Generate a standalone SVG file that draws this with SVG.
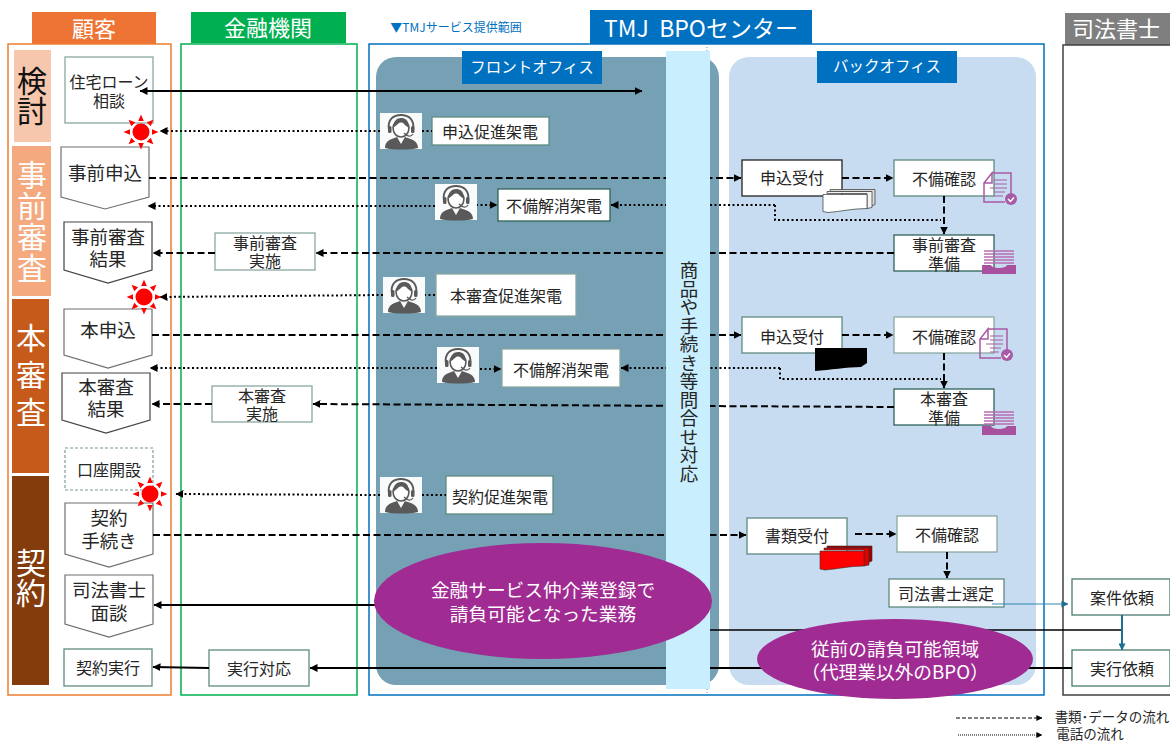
<svg xmlns="http://www.w3.org/2000/svg" width="1170" height="742" viewBox="0 0 1170 742">
<style>
text{font-family:"Noto Sans CJK JP","Noto Sans",sans-serif;fill:#262626;text-anchor:middle}
.box{fill:#fff;stroke:#5f8a80;stroke-width:1.3}
.pent{fill:#fff;stroke:#6f6f6f;stroke-width:1.2}
.hd{fill:#fff;font-size:22px}
.sub{fill:#fff;font-size:15.500px}
.st{font-size:30px;writing-mode:vertical-rl}
.t{font-size:16px}
.t2{font-size:18.500px}
.c{fill:none;stroke:#000}
.dash{stroke-width:2;stroke-dasharray:7 3.500}
.dot{stroke-width:2;stroke-dasharray:2 2.500}
.solid{stroke-width:2}
.leg{fill:#262626;font-size:13.500px}
.el{fill:#fff;font-size:18.700px}
</style>
<defs>
<marker id="a" viewBox="0 0 8 8" refX="7.500" refY="4" markerWidth="8" markerHeight="8" markerUnits="userSpaceOnUse" orient="auto-start-reverse"><path d="M0 0L8 4L0 8Z" fill="#000"/></marker>
<marker id="b" viewBox="0 0 8 8" refX="7.500" refY="4" markerWidth="6" markerHeight="6" markerUnits="userSpaceOnUse" orient="auto"><path d="M0 0L8 4L0 8Z" fill="#000"/></marker>
<marker id="tl" viewBox="0 0 8 8" refX="7.500" refY="4" markerWidth="7" markerHeight="7" markerUnits="userSpaceOnUse" orient="auto"><path d="M0 0L8 4L0 8Z" fill="#1f6f94"/></marker>
<symbol id="op" viewBox="0 0 42 36" overflow="visible">
<rect width="42" height="36" fill="#fff" opacity=".95"/>
<path d="M5 35C5 27 12 26 17 24L21 31L25 24C30 26 38 27 38 35C30 37 13 37 5 35Z" fill="#595959"/>
<path d="M13 14C13 7 29 7 29 14C29 21 25 24 21 24C17 24 13 21 13 14Z" fill="#fff" stroke="#595959" stroke-width="1.500"/>
<path d="M13 15C16 13 19 10 21 8C24 11 26 13 29 15C29 7 25 5 21 5C17 5 13 8 13 15Z" fill="#595959"/>
<path d="M9 17C7 6 14 2 21 2C28 2 35 6 33 17" fill="none" stroke="#595959" stroke-width="2"/>
<rect x="8" y="13" width="3.500" height="7" rx="1.500" fill="#595959"/><rect x="31" y="13" width="3.500" height="7" rx="1.500" fill="#595959"/>
<path d="M33 20C31 23 28 23 24 19" fill="none" stroke="#595959" stroke-width="1.300" transform="translate(0,1)"/>
</symbol>
<symbol id="sun" viewBox="-18 -18 36 36" overflow="visible">
<circle r="8.500" fill="#f00"/>
<g fill="#f00"><path d="M-2.800-11L0-17.500L2.800-11Z"/>
<path d="M-2.800-11L0-17.500L2.800-11Z" transform="rotate(45)"/><path d="M-2.800-11L0-17.500L2.800-11Z" transform="rotate(90)"/><path d="M-2.800-11L0-17.500L2.800-11Z" transform="rotate(135)"/><path d="M-2.800-11L0-17.500L2.800-11Z" transform="rotate(180)"/><path d="M-2.800-11L0-17.500L2.800-11Z" transform="rotate(225)"/><path d="M-2.800-11L0-17.500L2.800-11Z" transform="rotate(270)"/><path d="M-2.800-11L0-17.500L2.800-11Z" transform="rotate(315)"/></g>
</symbol>
<symbol id="chk" viewBox="0 0 34 32" overflow="visible">
<path d="M9 1H28V23M22 30H1V11L9 1V11H1" fill="none" stroke="#a95aa5" stroke-width="1.500"/>
<path d="M11 8H24M11 12H24M7 16H24M11 20H22M11 24H20" stroke="#a95aa5" stroke-width="1.200"/>
<circle cx="28" cy="27" r="6" fill="#a95aa5"/><path d="M25 27L27.500 29.500L31 25.500" fill="none" stroke="#fff" stroke-width="1.500"/>
</symbol>
<symbol id="tray" viewBox="0 0 36 24" overflow="visible">
<path d="M3 1H33M3 4H33M3 7H33M3 10H33M3 13H33" stroke="#b86db2" stroke-width="1.400"/>
<path d="M1 15H10C11 19 25 19 26 15H35V24H1Z" fill="#a8529f"/>
</symbol>
<symbol id="stack" viewBox="0 0 52 24" overflow="visible">
<path d="M7 1H52V16L47 18V3H7Z" fill="#d9d9d9" stroke="#333" stroke-width=".7"/>
<path d="M4 3H49V19L44 20V5H4Z" fill="#f2f2f2" stroke="#333" stroke-width=".7"/>
<path d="M0 6H44V20C30 20 18 23 5 24L0 23Z" fill="#fff" stroke="#333" stroke-width=".7"/>
</symbol>
</defs>

<rect x="32" y="12" width="124" height="32" fill="#ed7435"/>
<rect x="191" y="12" width="155" height="31" fill="#00b050"/>
<rect x="590" y="10" width="222" height="34" fill="#0070c0"/>
<rect x="1065" y="13" width="105" height="32" fill="#7f7f7f"/>
<text class="hd" x="94" y="37">顧客</text>
<text class="hd" x="268" y="36">金融機関</text>
<text class="hd" x="701" y="37" style="font-size:23px">TMJ&#160;&#160;BPOセンター</text>
<text class="hd" x="1116" y="37">司法書士</text>
<text x="456" y="32" style="font-size:12px;fill:#0070c0">▼TMJサービス提供範囲</text>

<rect x="8" y="44" width="163" height="651" fill="none" stroke="#ed7d31" stroke-width="1.500"/>
<rect x="181" y="44" width="176" height="651" fill="none" stroke="#00b050" stroke-width="1.500"/>
<rect x="369" y="44" width="675" height="651" fill="none" stroke="#0070c0" stroke-width="1.500"/>
<rect x="1063" y="45" width="120" height="650" fill="none" stroke="#404040" stroke-width="1.500"/>

<rect x="376" y="57" width="343" height="628" rx="20" fill="#76a1b5"/>
<rect x="729" y="57" width="307" height="628" rx="20" fill="#c7dbf1"/>
<rect x="462" y="51" width="140" height="33" fill="#0070c0"/>
<rect x="817" y="51" width="140" height="32" fill="#0070c0"/>
<text class="sub" x="532" y="73">フロントオフィス</text>
<text class="sub" x="887" y="72">バックオフィス</text>

<g id="stages">
<rect x="14" y="50" width="37" height="92" fill="#f6c6ad"/>
<rect x="12" y="146" width="39" height="150" fill="#f4a97f"/>
<rect x="12" y="299" width="37" height="174" fill="#c55a1a"/>
<rect x="12" y="476" width="37" height="209" fill="#843c0c"/>
<text class="st" x="32" y="96" style="fill:#111">検討</text>
<text class="st" x="32" y="222" style="fill:#fff;letter-spacing:1px">事前審査</text>
<text class="st" x="31" y="378" style="fill:#fff;letter-spacing:7px">本審査</text>
<text class="st" x="31" y="578" style="fill:#fff">契約</text>
</g>

<g id="n-jutaku"><rect class="box" x="65" y="57" width="88" height="66" style="stroke:#8aa8a0"/><text class="t" x="109" y="88">住宅ローン</text><text class="t" x="109" y="107">相談</text></g>
<g id="n-jizen"><path class="pent" d="M61 147H149V197L105 209L61 197Z"/><text class="t2" x="105" y="180">事前申込</text></g>
<g id="n-jizenkekka"><path class="pent" d="M64 222H152V270L108 283L64 270Z" style="stroke:#444"/><text class="t2" x="108" y="244">事前審査</text><text class="t2" x="108" y="266">結果</text></g>
<g id="n-hon"><path class="pent" d="M64 309H152V355L108 368L64 355Z"/><text class="t2" x="108" y="337">本申込</text></g>
<g id="n-honkekka"><path class="pent" d="M62 373H150V420L106 433L62 420Z" style="stroke:#444"/><text class="t2" x="106" y="394">本審査</text><text class="t2" x="106" y="416">結果</text></g>
<g id="n-koza"><rect x="65" y="448" width="88" height="42" fill="#fff" stroke="#7f9a94" stroke-width="1.200" stroke-dasharray="3 2"/><text class="t" x="109" y="476">口座開設</text></g>
<g id="n-keiyaku"><path class="pent" d="M65 503H153V554L109 567L65 554Z"/><text class="t2" x="109" y="525">契約</text><text class="t2" x="109" y="548">手続き</text></g>
<g id="n-shiho"><path class="pent" d="M65 575H153V624L109 637L65 624Z"/><text class="t2" x="109" y="597">司法書士</text><text class="t2" x="109" y="620">面談</text></g>
<g id="n-jikko"><rect class="box" x="64" y="649" width="88" height="37"/><text class="t" x="108" y="674">契約実行</text></g>

<g id="n-jizenjisshi"><rect class="box" x="215" y="233" width="100" height="37" style="stroke:#8aa8a0"/><text class="t" x="265" y="249">事前審査</text><text class="t" x="265" y="267">実施</text></g>
<g id="n-honjisshi"><rect class="box" x="212" y="386" width="100" height="36" style="stroke:#8aa8a0"/><text class="t" x="262" y="402">本審査</text><text class="t" x="262" y="420">実施</text></g>
<g id="n-jikkotaio"><rect class="box" x="209" y="650" width="100" height="36"/><text class="t" x="259" y="675">実行対応</text></g>

<g id="n-c1"><rect class="box" x="432" y="117" width="117" height="28"/><text class="t" x="490" y="138">申込促進架電</text></g>
<g id="n-c2"><rect class="box" x="498" y="189" width="112" height="32" style="stroke:#2f6358"/><text class="t" x="554" y="212">不備解消架電</text></g>
<g id="n-c3"><rect class="box" x="436" y="274" width="140" height="42" style="stroke:#8aa8a0"/><text class="t" x="506" y="302">本審査促進架電</text></g>
<g id="n-c4"><rect class="box" x="502" y="349" width="118" height="38" style="stroke:#8aa8a0"/><text class="t" x="561" y="376">不備解消架電</text></g>
<g id="n-c5"><rect class="box" x="446" y="476" width="107" height="38"/><text class="t" x="500" y="503">契約促進架電</text></g>

<g id="n-uke1"><rect class="box" x="742" y="160" width="100" height="36" style="stroke:#222"/><text class="t" x="792" y="184">申込受付</text></g>
<g id="n-fubi1"><rect class="box" x="894" y="160" width="100" height="36"/><text class="t" x="944" y="185">不備確認</text></g>
<g id="n-jizenjunbi"><rect class="box" x="894" y="235" width="100" height="36" style="stroke:#2f6358"/><text class="t" x="944" y="251">事前審査</text><text class="t" x="944" y="270">準備</text></g>
<g id="n-uke2"><rect class="box" x="742" y="317" width="100" height="36"/><text class="t" x="792" y="343">申込受付</text></g>
<g id="n-fubi2"><rect class="box" x="894" y="317" width="100" height="36" style="stroke:#8aa8a0"/><text class="t" x="944" y="343">不備確認</text></g>
<g id="n-honjunbi"><rect class="box" x="894" y="389" width="100" height="36" style="stroke:#2f6358"/><text class="t" x="944" y="405">本審査</text><text class="t" x="944" y="424">準備</text></g>
<g id="n-uke3"><rect class="box" x="747" y="518" width="100" height="36"/><text class="t" x="797" y="542">書類受付</text></g>
<g id="n-fubi3"><rect class="box" x="897" y="516" width="100" height="36" style="stroke:#8aa8a0"/><text class="t" x="947" y="541">不備確認</text></g>
<g id="n-sentei"><rect class="box" x="889" y="579" width="115" height="28"/><text class="t" x="946" y="600">司法書士選定</text></g>
<g id="n-anken"><rect class="box" x="1072" y="579" width="98" height="36" style="stroke:#4a7a70"/><text class="t" x="1122" y="604">案件依頼</text></g>
<g id="n-jikkoirai"><rect class="box" x="1072" y="650" width="98" height="36" style="stroke:#4a7a70"/><text class="t" x="1122" y="675">実行依頼</text></g>

<g id="connectors">
<path class="c solid" d="M140 91H642" marker-start="url(#a)" marker-end="url(#a)"/>
<path class="c dot" d="M380 131H160" marker-end="url(#a)"/><path class="c dot" d="M422 131H432"/>
<path class="c dash" d="M149 178H741" marker-end="url(#a)"/>
<path class="c dash" d="M842 178H893" marker-end="url(#a)"/>
<path class="c dash" d="M944 196V234" marker-end="url(#a)"/>
<path class="c dot" d="M435 206H148" marker-end="url(#a)"/>
<path class="c dot" d="M476 205H497" marker-end="url(#a)"/>
<path class="c dot" d="M775 205H611" marker-end="url(#a)"/>
<path class="c dot" d="M775 205V220H941"/>
<path class="c dash" d="M894 253H316" marker-end="url(#a)"/>
<path class="c dash" d="M215 253H153" marker-end="url(#a)"/>
<path class="c dot" d="M383 295L160 297" marker-end="url(#a)"/><path class="c dot" d="M424 295H436"/>
<path class="c dash" d="M152 335H741" marker-end="url(#a)"/>
<path class="c dash" d="M842 335H893" marker-end="url(#a)"/>
<path class="c dash" d="M944 353V388" marker-end="url(#a)"/>
<path class="c dot" d="M437 368H150" marker-end="url(#a)"/>
<path class="c dot" d="M480 369H501" marker-end="url(#a)"/>
<path class="c dot" d="M780 368H621" marker-end="url(#a)"/>
<path class="c dot" d="M780 368V379H941"/>
<path class="c dash" d="M894 407L313 404" marker-end="url(#a)"/>
<path class="c dash" d="M212 404H152" marker-end="url(#a)"/>
<path class="c dot" d="M380 495L176 494" marker-end="url(#a)"/><path class="c dot" d="M422 495H446"/>
<path class="c dash" d="M153 535H746" marker-end="url(#a)"/>
<path class="c dash" d="M855 534H896" marker-end="url(#a)"/>
<path class="c dash" d="M947 552V578" marker-end="url(#a)"/>
<path class="c solid" d="M400 605H154" marker-end="url(#a)"/>
<path class="c" stroke-width="1.500" d="M1122 630H690"/>
<path class="c solid" d="M1072 668H310" marker-end="url(#a)"/>
<path class="c solid" d="M209 668L153 667" marker-end="url(#a)"/>
<path d="M992 604H1068" fill="none" stroke="#2f86ad" stroke-width="1" marker-end="url(#tl)"/>
<path d="M1122 615V650" fill="none" stroke="#1f6f94" stroke-width="2" marker-end="url(#tl)"/>
<path d="M956 718H1042" fill="none" stroke="#000" stroke-width="1" stroke-dasharray="4 2" marker-end="url(#b)"/>
<path d="M958 735H1042" fill="none" stroke="#000" stroke-width="1" stroke-dasharray="1 1" marker-end="url(#b)"/>
</g>

<g id="n-toiawase">
<rect x="666" y="51" width="44" height="638" fill="#c9eefe"/>
<path d="M707 44V51M707 689V695" stroke="#5b8fa8" stroke-width="1" stroke-dasharray="1 2"/>
<text x="689" y="372" style="font-size:18.500px;writing-mode:vertical-rl">商品や手続き等問合せ対応</text>
</g>

<use href="#sun" x="123" y="114" width="36" height="36"/>
<use href="#sun" x="126" y="279" width="36" height="36"/>
<use href="#sun" x="132" y="476" width="36" height="36"/>

<use href="#op" x="380" y="113" width="42" height="36"/>
<use href="#op" x="435" y="184" width="42" height="36"/>
<use href="#op" x="383" y="277" width="42" height="36"/>
<use href="#op" x="437" y="347" width="42" height="36"/>
<use href="#op" x="380" y="477" width="42" height="36"/>

<use href="#stack" x="823" y="188" width="52" height="25"/>
<path d="M815 348H867V363L861 367C847 367 830 370 815 371Z" fill="#000"/>
<g transform="translate(820,546)"><path d="M7 0H52V15L47 17V2H7Z" fill="#a00000" stroke="#333" stroke-width=".6"/><path d="M4 2H49V19L44 20V4H4Z" fill="#e00000" stroke="#333" stroke-width=".6"/><path d="M0 5H44V20C30 20 18 23 5 24L0 23Z" fill="#f00" stroke="#333" stroke-width=".6"/></g>

<use href="#chk" x="983" y="172" width="34" height="32"/>
<use href="#chk" x="979" y="328" width="34" height="32"/>
<use href="#tray" x="981" y="250" width="36" height="24"/>
<use href="#tray" x="981" y="411" width="36" height="24"/>

<g id="n-e1"><ellipse cx="543" cy="601" rx="169" ry="58" fill="#a02b93"/><text class="el" x="543" y="597">金融サービス仲介業登録で</text><text class="el" x="543" y="621">請負可能となった業務</text></g>
<g id="n-e2"><ellipse cx="895" cy="659" rx="138" ry="40" fill="#a02b93"/><text class="el" x="895" y="656">従前の請負可能領域</text><text class="el" x="895" y="679">（代理業以外のBPO）</text></g>

<text class="leg" x="1112" y="722">書類･データの流れ</text>
<text class="leg" x="1090" y="739">電話の流れ</text>
</svg>
